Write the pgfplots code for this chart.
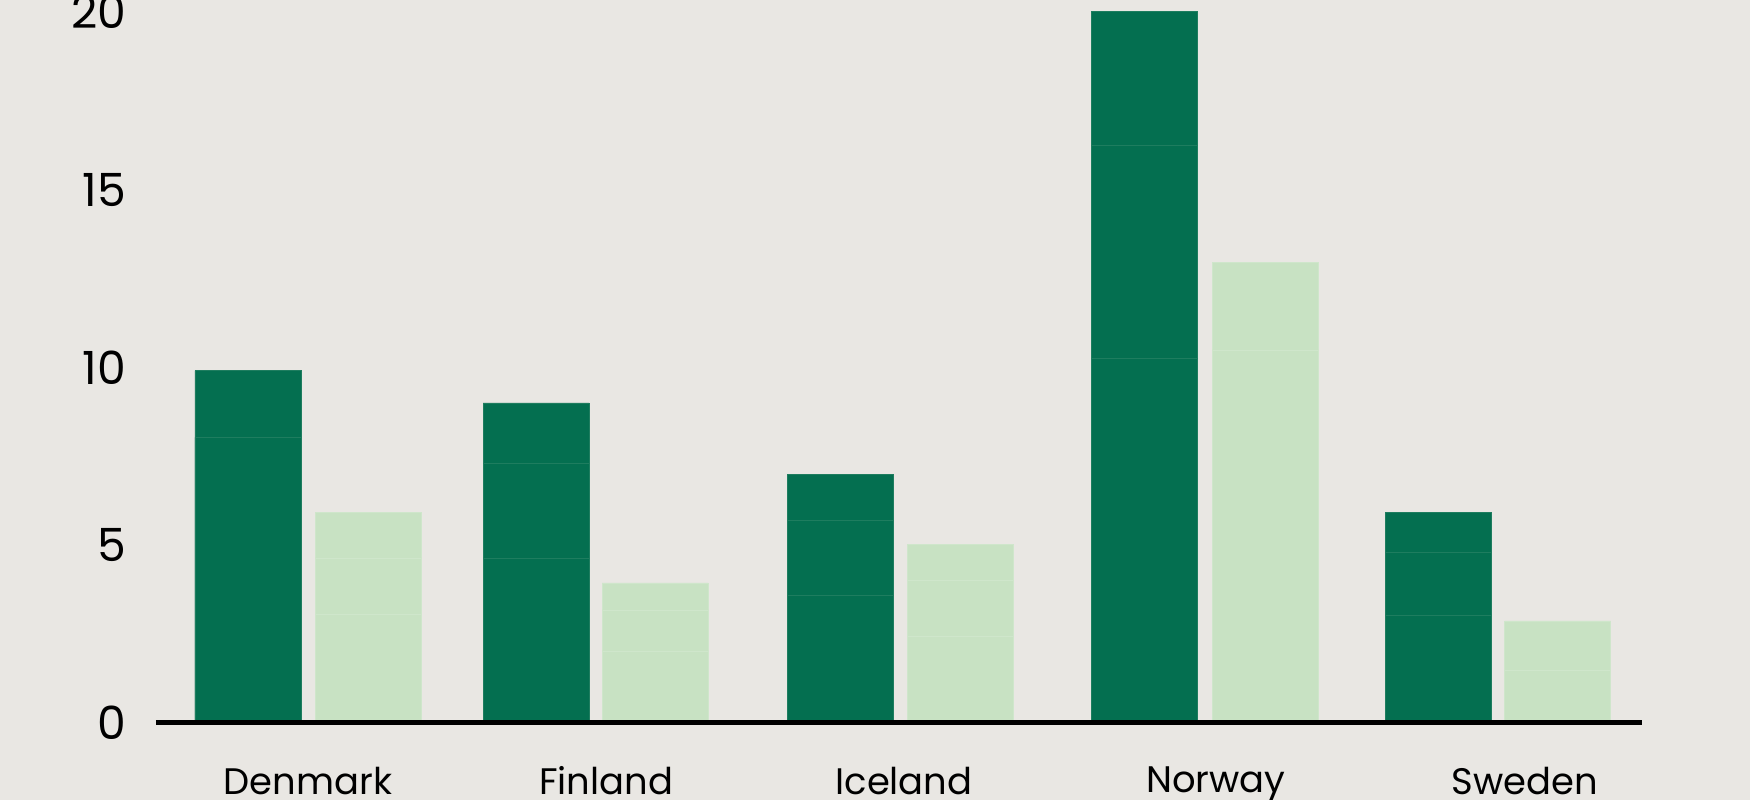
\documentclass[border=0pt]{standalone}
\usepackage{pgfplots}
\pgfplotsset{compat=1.18}
\usepackage{fontspec}
\setmainfont{Poppins}
\definecolor{bgc}{HTML}{E9E7E3}
\definecolor{dk}{HTML}{046F50}
\definecolor{dkl}{HTML}{1E7D5F}
\definecolor{lt}{HTML}{C8E2C3}
\definecolor{ltl}{HTML}{CFE6CB}
\begin{document}
\begin{tikzpicture}
\fill[bgc] (0,0) rectangle (175mm,80mm);
\path[use as bounding box] (0,0) rectangle (175mm,80mm);
\clip (0,0) rectangle (175mm,80mm);
\begin{axis}[
  at={(15.6mm,7.7mm)}, anchor=south west,
  scale only axis, width=148.6mm, height=72.3mm,
  xmin=156, xmax=1642, ymin=0, ymax=20.33,
  axis x line*=bottom, axis y line*=left,
  x axis line style={line width=0.5mm, black},
  y axis line style={draw=none},
  axis on top,
  ytick={0,5,10,15,20},
  xtick={308,606,904,1216,1525},
  xticklabels={Denmark,Finland,Iceland,Norway,Sweden},
  major tick length=0pt,
  /pgf/number format/assume math mode=true,
  yticklabel style={anchor=east, inner sep=0pt, xshift=-2.9mm, font=\fontsize{13}{15}\selectfont},
  xticklabel style={anchor=north, inner sep=0pt, yshift=-4.3mm, font=\fontsize{10.5}{12}\selectfont},
  ybar, bar width=106, bar shift=0,
  clip=false,
]
% dark bars: full height
\addplot[fill=dk, draw=dkl, line width=0.06mm] coordinates {(248,9.91) (536,9.0) (840,6.99) (1144.5,20.0) (1438.5,5.93)};
% dark bars: segment boundaries
\addplot[fill=dk, draw=dkl, line width=0.06mm] coordinates {(248,8.03) (536,7.31) (840,5.69) (1144.5,16.24) (1438.5,4.80)};
\addplot[fill=dk, draw=dkl, line width=0.06mm] coordinates {(536,4.64) (840,3.59) (1144.5,10.26) (1438.5,3.04)};
% light bars: full height
\addplot[fill=lt, draw=ltl, line width=0.06mm] coordinates {(368,5.92) (655,3.94) (960,5.02) (1265,12.95) (1557.5,2.87)};
% light bars: segment boundaries
\addplot[fill=lt, draw=ltl, line width=0.06mm] coordinates {(368,4.64) (655,3.18) (960,4.02) (1265,10.49) (1557.5,1.47)};
\addplot[fill=lt, draw=ltl, line width=0.06mm] coordinates {(368,3.06) (655,2.03) (960,2.43)};
\end{axis}
\end{tikzpicture}
\end{document}
